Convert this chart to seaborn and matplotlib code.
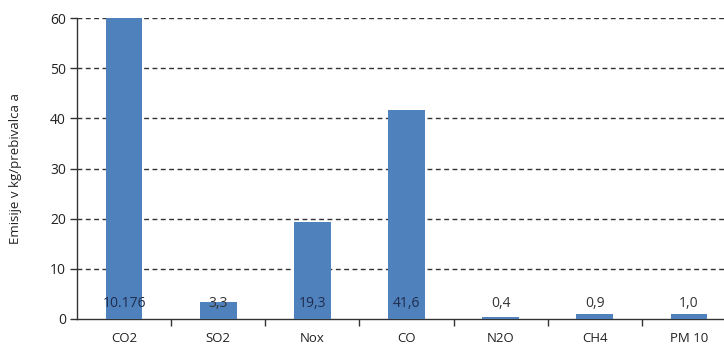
import matplotlib.pyplot as plt
import seaborn as sns
import pandas as pd
import numpy as np

# podatki
categories = ['CO2', 'SO2', 'Nox', 'CO', 'N2O', 'CH4', 'PM 10']
values = [10176, 3.3, 19.3, 41.6, 0.4, 0.9, 1.0]
value_labels = ['10.176', '3,3', '19,3', '41,6', '0,4', '0,9', '1,0']
y_ticks = [0, 10, 20, 30, 40, 50, 60]

sns.set_theme(style='white')
plt.rcParams['font.family'] = ['Open Sans', 'DejaVu Sans']

fig = plt.figure(figsize=(7.24, 3.52), dpi=100)
# os sega cez desni rob slike (originalni graf je odrezan)
ax = fig.add_axes([77 / 724, 1 - 319 / 352, (736 - 77) / 724, (319 - 18) / 352])

df = pd.DataFrame({'cat': categories, 'val': values})
sns.barplot(x='cat', y='val', data=df, color='#4F81BD', width=0.39,
            saturation=1, linewidth=0, ax=ax, zorder=3)

ax.set_ylim(0, 60)
ax.set_xlim(-0.5, len(categories) - 0.5)
ax.set_yticks(y_ticks)
ax.set_yticklabels([str(t) for t in y_ticks], fontsize=10, color='#222222')
ax.set_xticks(range(len(categories)))
ax.set_xticklabels(categories, fontsize=9.5, color='#222222')
ax.set_xticks(np.arange(0.5, len(categories) - 0.5, 1), minor=True)
ax.tick_params(axis='x', which='major', length=0, pad=9)
ax.tick_params(axis='x', which='minor', length=5, width=1, color='#333333', direction='out', bottom=True)
ax.tick_params(axis='y', length=5, width=1, color='#333333', direction='out', left=True, pad=3)

for t in y_ticks[1:]:
    ax.axhline(t, color='#333333', linestyle=(0, (3.5, 2.5)), linewidth=1, zorder=1)

for i, lab in enumerate(value_labels):
    col = '#1F2D4D' if values[i] > 5 else '#333333'
    ax.text(i, 3.0, lab, ha='center', va='center', fontsize=10, color=col, zorder=4)

for s in ['top', 'right']:
    ax.spines[s].set_visible(False)
ax.spines['left'].set_color('#333333')
ax.spines['bottom'].set_color('#333333')
ax.spines['left'].set_linewidth(1)
ax.spines['bottom'].set_linewidth(1)

ax.set_xlabel('')
ax.set_ylabel('Emisije v kg/prebivalca a', fontsize=9.5, color='#222222', labelpad=20)

fig.savefig('out.png', dpi=100)
